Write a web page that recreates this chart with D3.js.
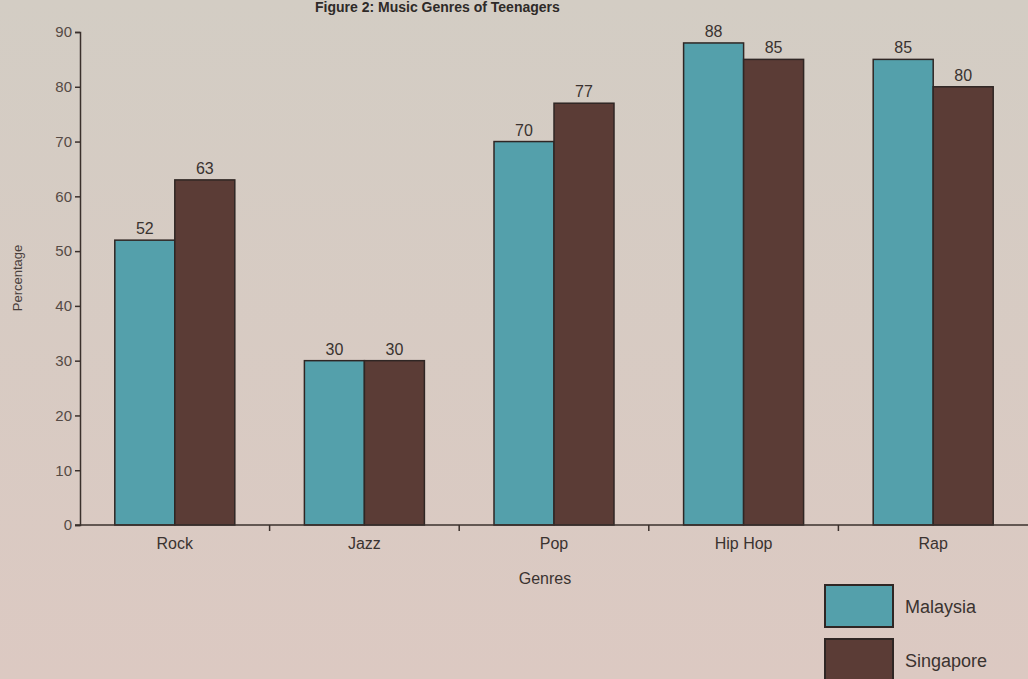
<!DOCTYPE html>
<html>
<head>
<meta charset="utf-8">
<script src="https://cdn.jsdelivr.net/npm/d3@7"></script>
<style>
  body { margin: 0; background: #d4ccc3; }
  svg { display: block; font-family: "Liberation Sans", Arial, sans-serif; }
</style>
</head>
<body>
<script>
// data
var genres = ["Rock", "Jazz", "Pop", "Hip Hop", "Rap"];
var countries = ["Malaysia", "Singapore"];
var malaysia = [52, 30, 70, 88, 85];
var singapore = [63, 30, 77, 85, 80];
var yTicks = [0, 10, 20, 30, 40, 50, 60, 70, 80, 90];
var colors = ["#54a0ab", "#5b3c36"];

var width = 1028, height = 679;
var marginLeft = 80, marginTop = 32, plotRight = 1028, plotBottom = 525;

var svg = d3.select("body").append("svg")
    .attr("width", width)
    .attr("height", height);

var bg = svg.append("defs").append("linearGradient")
    .attr("id", "paper").attr("x1", 0).attr("y1", 0).attr("x2", 0).attr("y2", 1);
bg.append("stop").attr("offset", "0%").attr("stop-color", "#d3cdc4");
bg.append("stop").attr("offset", "100%").attr("stop-color", "#dcc9c2");
svg.append("rect").attr("width", width).attr("height", height).attr("fill", "url(#paper)");

// title (only its lower half shows in the photo)
svg.append("text")
    .attr("x", 315).attr("y", 12)
    .attr("font-size", 14).attr("font-weight", "bold")
    .attr("fill", "#2e2a28")
    .text("Figure 2: Music Genres of Teenagers");

var x0 = d3.scaleBand().domain(genres).range([marginLeft, plotRight]).paddingInner(0).paddingOuter(0);
var x1 = d3.scaleBand().domain(countries).range([0, x0.bandwidth()]).paddingInner(0).paddingOuter(0.58);
var y = d3.scaleLinear().domain([0, 90]).range([plotBottom, marginTop]);

var rows = genres.map(function (g, i) {
    return { genre: g, values: [malaysia[i], singapore[i]] };
});

var g = svg.append("g");
g.selectAll(".grp")
    .data(rows)
    .enter().append("g")
    .attr("transform", function (d) { return "translate(" + x0(d.genre) + ",0)"; })
    .each(function (d) {
        var grp = d3.select(this);
        grp.selectAll("rect")
            .data(d.values)
            .enter().append("rect")
            .attr("x", function (v, i) { return x1(countries[i]); })
            .attr("y", function (v) { return y(v); })
            .attr("width", x1.bandwidth())
            .attr("height", function (v) { return y(0) - y(v); })
            .attr("fill", function (v, i) { return colors[i]; })
            .attr("stroke", "#2f2624")
            .attr("stroke-width", 1.5);
        grp.selectAll("text")
            .data(d.values)
            .enter().append("text")
            .attr("x", function (v, i) { return x1(countries[i]) + x1.bandwidth() / 2; })
            .attr("y", function (v) { return y(v) - 6; })
            .attr("text-anchor", "middle")
            .attr("font-size", 16)
            .attr("fill", "#3a3330")
            .text(function (v) { return v; });
    });

// y axis
var yAxis = svg.append("g")
    .attr("transform", "translate(" + marginLeft + ",0)")
    .call(d3.axisLeft(y).tickValues(yTicks).tickSize(5).tickPadding(3));
yAxis.select(".domain").attr("stroke", "#3a302c").attr("stroke-width", 1.5);
yAxis.selectAll(".tick line").attr("stroke", "#3a302c").attr("stroke-width", 1.5);
yAxis.selectAll(".tick text").attr("font-size", 15).attr("fill", "#554a45")
    .attr("font-family", "Liberation Sans, Arial, sans-serif");

// x axis with ticks between categories
var xAxis = svg.append("g")
    .attr("transform", "translate(0," + plotBottom + ")");
xAxis.append("line")
    .attr("x1", marginLeft - 5).attr("x2", plotRight)
    .attr("stroke", "#3a302c").attr("stroke-width", 1.5);
xAxis.selectAll(".sep")
    .data(genres.slice(1))
    .enter().append("line")
    .attr("x1", function (d) { return x0(d); })
    .attr("x2", function (d) { return x0(d); })
    .attr("y1", 0).attr("y2", 6)
    .attr("stroke", "#3a302c").attr("stroke-width", 1.5);
xAxis.selectAll(".lbl")
    .data(genres)
    .enter().append("text")
    .attr("x", function (d) { return x0(d) + x0.bandwidth() / 2; })
    .attr("y", 24)
    .attr("text-anchor", "middle")
    .attr("font-size", 16)
    .attr("fill", "#3a3330")
    .text(function (d) { return d; });

svg.append("text")
    .attr("x", 545).attr("y", 584)
    .attr("text-anchor", "middle")
    .attr("font-size", 16)
    .attr("fill", "#3a3330")
    .text("Genres");

svg.append("text")
    .attr("transform", "translate(22,278) rotate(-90)")
    .attr("text-anchor", "middle")
    .attr("font-size", 13)
    .attr("fill", "#4a403c")
    .text("Percentage");

// legend
var legend = svg.append("g").attr("transform", "translate(825,585)");
legend.selectAll("rect")
    .data(countries)
    .enter().append("rect")
    .attr("x", 0)
    .attr("y", function (d, i) { return i * 54; })
    .attr("width", 68).attr("height", 42)
    .attr("fill", function (d, i) { return colors[i]; })
    .attr("stroke", "#2f2624").attr("stroke-width", 2);
legend.selectAll("text")
    .data(countries)
    .enter().append("text")
    .attr("x", 80)
    .attr("y", function (d, i) { return i * 54 + 28; })
    .attr("font-size", 18)
    .attr("fill", "#3a3330")
    .text(function (d) { return d; });
</script>
</body>
</html>
